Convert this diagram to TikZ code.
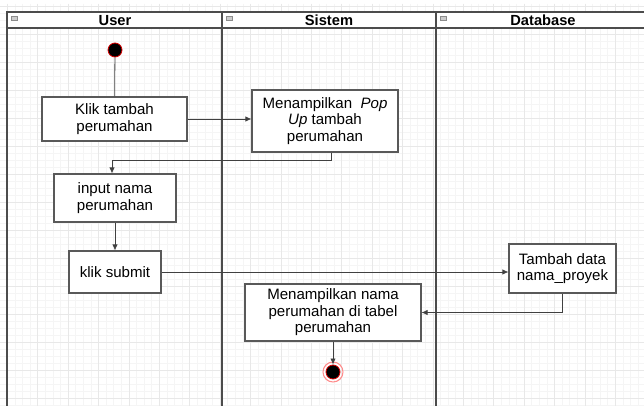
\documentclass[tikz,border=0pt]{standalone}
\usepackage{fontspec}
\setmainfont{Liberation Sans}
\usepackage{tikz}
\usetikzlibrary{arrows.meta}
\usetikzlibrary{calc}

\tikzset{
    act/.style={draw=black!65, fill=white, line width=0.8pt, align=center, inner sep=0,
        font=\fontsize{11.3}{12.3}\selectfont},
    flow/.style={draw=black!75, line width=0.6pt, -{Latex[length=4.5pt,width=4pt]}},
    lane/.style={draw=black!70, line width=1.1pt},
    gridminor/.style={draw=black!4, line width=0.4pt},
    gridmajor/.style={draw=black!9, line width=0.5pt},
    lanehead/.style={font=\fontsize{11}{12}\selectfont\bfseries},
    laneicon/.style={draw=black!45, fill=black!20, line width=0.3pt},
}

\begin{document}
\begin{tikzpicture}[x=0.75pt, y=-0.75pt]
    \useasboundingbox (0,0) rectangle (644,406);
    \clip (0,0) rectangle (644,406);
    \fill[white] (0,0) rectangle (644,406);

    \foreach \i in {0,...,85} \draw[gridminor] ({-0.3+7.6*\i},4) -- ({-0.3+7.6*\i},406);
    \foreach \j in {1,...,58} \draw[gridminor] (0,{-0.7+7*\j}) -- (644,{-0.7+7*\j});
    \foreach \i in {0,...,21} \draw[gridmajor] ({7.3+30.4*\i},4) -- ({7.3+30.4*\i},406);
    \foreach \j in {0,...,14} \draw[gridmajor] (0,{6.3+28*\j}) -- (644,{6.3+28*\j});

    \fill[white] (7,12) rectangle (650,28);
    \draw[lane] (650,12) -- (7,12) -- (7,412);
    \draw[lane] (7,28) -- (650,28);
    \draw[lane] (222,12) -- (222,412);
    \draw[lane] (436,12) -- (436,412);
    \foreach \lx in {11,226,440} \draw[laneicon] (\lx,16) rectangle ++(6,4.5);
    \node[lanehead] (hUser) at (115,20.5) {User};
    \node[lanehead] (hSistem) at (329,20.5) {Sistem};
    \node[lanehead] (hDb) at (543,20.5) {Database};

    \node[circle, fill=black, draw=red!85!black, line width=0.6pt, minimum size=10.5pt, inner sep=0] (start) at (115,50) {};
    \node[act, minimum width=108.75pt, minimum height=33pt] (klik) at (114.5,119) {Klik tambah\\perumahan};
    \node[act, minimum width=109.5pt, minimum height=46.5pt] (popup) at (325,121) {Menampilkan\ \ \textit{Pop}\\\textit{Up} tambah\\perumahan};
    \node[act, minimum width=91.5pt, minimum height=36pt] (input) at (115,198) {input nama\\perumahan};
    \node[act, minimum width=69pt, minimum height=31.5pt] (submit) at (115,272) {klik submit};
    \node[act, minimum width=80.25pt, minimum height=36.75pt] (tambah) at (562.5,268.5) {Tambah data\\nama\_proyek};
    \node[act, minimum width=132pt, minimum height=42.75pt] (tampil) at (333,312.5) {Menampilkan nama\\perumahan di tabel\\perumahan};
    \node[circle, fill=black, draw=red!85!black, line width=0.6pt, minimum size=10.5pt, inner sep=0] (stop) at (333,372) {};
    \draw[red!45, line width=0.8pt] (stop) circle (7.5pt);

    \draw[draw=black!75, line width=0.6pt] (start) -- (klik);
    \draw[flow] (klik.east) -- (klik.east -| popup.west);
    \draw[flow] ($(popup.south)+(6,0)$) -- ++(0,8) -| ($(input.north)+(-3,0)$);
    \draw[flow] (input) -- (submit);
    \draw[flow] (submit.east) -- (submit.east -| tambah.west);
    \draw[flow] (tambah.south) |- (tampil.east);
    \draw[flow] (tampil) -- (stop);
\end{tikzpicture}
\end{document}
